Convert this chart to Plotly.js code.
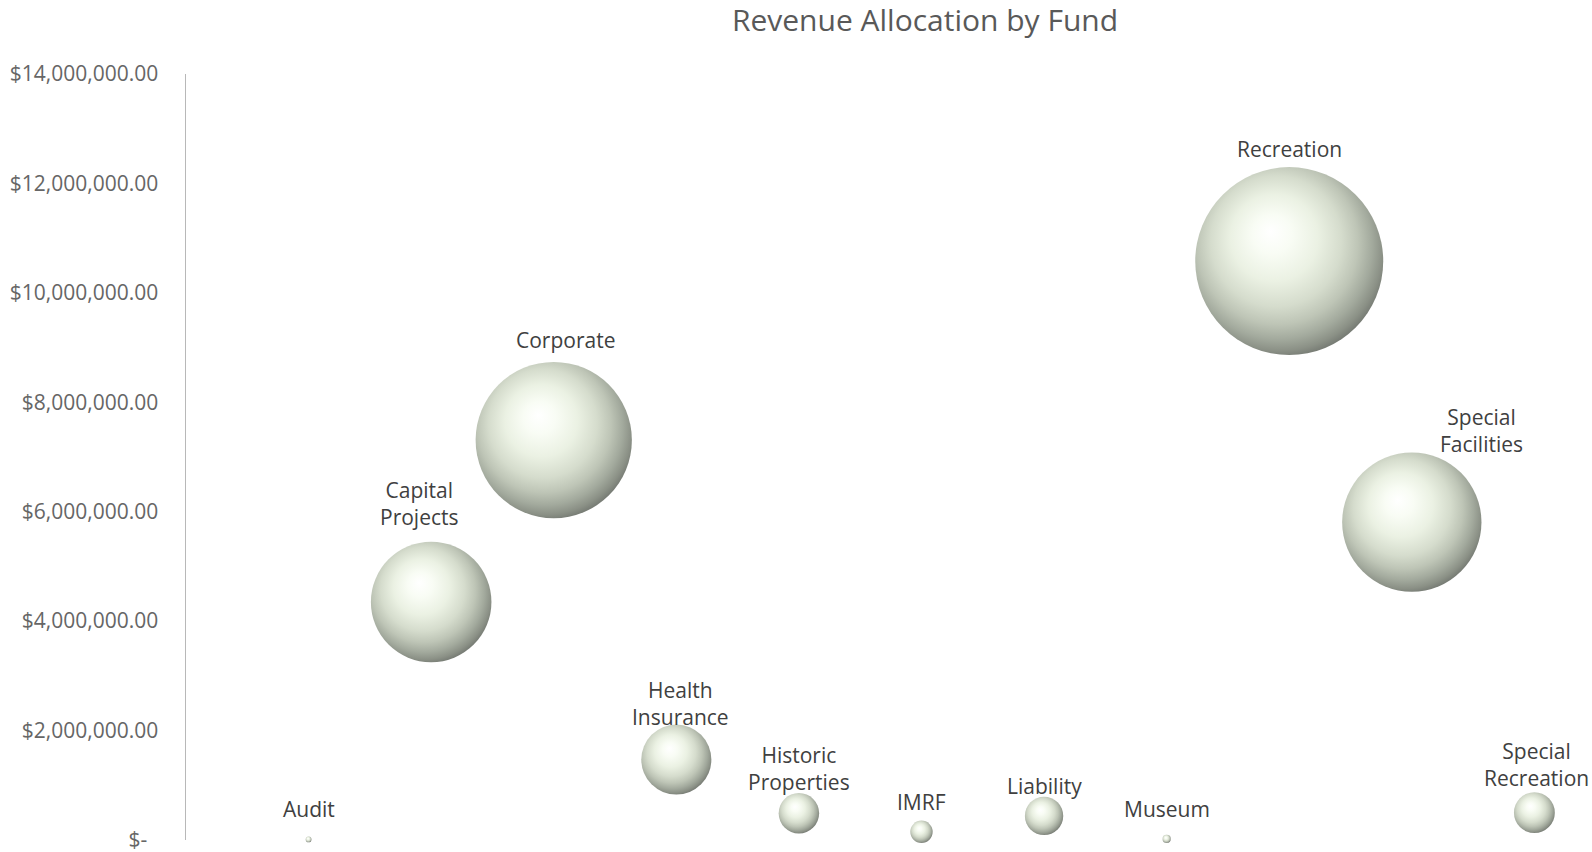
<!DOCTYPE html>
<html>
<head>
<meta charset="utf-8">
<script src="https://cdn.plot.ly/plotly-3.0.1.min.js"></script>
<style>
html, body { margin: 0; padding: 0; background: #ffffff; }
#chart { width: 1592px; height: 852px; }
</style>
</head>
<body>
<div id="chart"></div>
<script>
// ---- Data ----
const funds = ["Audit", "Capital Projects", "Corporate", "Health Insurance", "Historic Properties",
               "IMRF", "Liability", "Museum", "Recreation", "Special Facilities", "Special Recreation"];
const fundLabels = ["Audit", "Capital<br>Projects", "Corporate", "Health<br>Insurance", "Historic<br>Properties",
                    "IMRF", "Liability", "Museum", "Recreation", "Special<br>Facilities", "Special<br>Recreation"];
const fundIndex = [1, 2, 3, 4, 5, 6, 7, 8, 9, 10, 11];
const revenue = [10000, 4350000, 7310000, 1470000, 490000, 150000, 440000, 20000, 10580000, 5810000, 500000];
const yTickValues = [0, 2000000, 4000000, 6000000, 8000000, 10000000, 12000000, 14000000];
const yTickLabels = ["$-\u00a0\u00a0", "$2,000,000.00", "$4,000,000.00", "$6,000,000.00", "$8,000,000.00",
                     "$10,000,000.00", "$12,000,000.00", "$14,000,000.00"];

// ---- Style ----
const MAX_DIAM = 188;
const maxRev = Math.max(...revenue);
const sizeref = 2 * maxRev / (MAX_DIAM * MAX_DIAM);
const radiusOf = v => 0.5 * MAX_DIAM * Math.sqrt(v / maxRev);
const labelOverride = {
  "Corporate": { dx: 12, dy: 5 },
  "Capital Projects": { dx: -12, dy: 10 },
  "Health Insurance": { dx: 4, dy: -5 },
  "Special Facilities": { dx: 70, dy: -8 },
  "Special Recreation": { dx: 2, dy: 3 }
};
const labelFont = { family: "Open Sans, sans-serif", size: 21, color: "#404040" };

const annotations = funds.map((f, i) => {
  const r = radiusOf(revenue[i]);
  const off = Math.max(31, 1.1 * r + 10);
  const ov = labelOverride[f] || { dx: 0, dy: 0 };
  return {
    x: fundIndex[i], y: revenue[i], xref: "x", yref: "y",
    text: fundLabels[i], showarrow: false,
    xanchor: "center", yanchor: "bottom",
    xshift: ov.dx, yshift: off - 17 + ov.dy,
    font: labelFont
  };
});

const trace = {
  type: "scatter",
  mode: "markers",
  x: fundIndex,
  y: revenue,
  text: funds,
  cliponaxis: false,
  marker: {
    size: revenue,
    sizemode: "area",
    sizeref: sizeref,
    color: "#aab4a0",
    line: { width: 0 }
  },
  hoverinfo: "text+y"
};

const layout = {
  width: 1592, height: 852,
  margin: { l: 186, r: 0, t: 73.5, b: 12 },
  paper_bgcolor: "#ffffff", plot_bgcolor: "#ffffff",
  showlegend: false,
  title: {
    text: "Revenue Allocation by Fund",
    font: { family: "Open Sans, sans-serif", size: 30, color: "#595959" },
    x: 925 / 1592, xref: "container", xanchor: "center",
    y: 1 - 20 / 852, yref: "container", yanchor: "middle"
  },
  xaxis: { visible: false, range: [0, 11.47], showgrid: false, zeroline: false },
  yaxis: {
    range: [0, 14000000],
    tickmode: "array",
    tickvals: yTickValues, ticktext: yTickLabels,
    tickfont: { family: "Open Sans, sans-serif", size: 21, color: "#666666" },
    ticks: "", ticklabelstandoff: 22, ticklabeloverflow: "allow",
    showline: true, linecolor: "#b8b8b8", linewidth: 1.5,
    showgrid: false, zeroline: false
  },
  annotations: annotations
};

function addSphereShading(gd) {
  const ns = "http://www.w3.org/2000/svg";
  const svg = gd.querySelector("svg.main-svg");
  let defs = svg.querySelector("defs");
  if (!defs) { defs = document.createElementNS(ns, "defs"); svg.insertBefore(defs, svg.firstChild); }
  const rg = document.createElementNS(ns, "radialGradient");
  rg.setAttribute("id", "sphereShade");
  rg.setAttribute("cx", "0.45"); rg.setAttribute("cy", "0.43");
  rg.setAttribute("fx", "0.40"); rg.setAttribute("fy", "0.34");
  rg.setAttribute("r", "0.58");
  const stops = [[0, "#ffffff"], [0.18, "#f6fbf0"], [0.4, "#e2ebd7"], [0.6, "#c3cdb7"],
                 [0.74, "#a2ac97"], [0.86, "#7b8573"], [0.95, "#596152"], [1, "#3f463b"]];
  stops.forEach(([o, c]) => {
    const s = document.createElementNS(ns, "stop");
    s.setAttribute("offset", o);
    s.setAttribute("stop-color", c);
    rg.appendChild(s);
  });
  defs.appendChild(rg);
  gd.querySelectorAll(".scatterlayer path.point").forEach(p => {
    p.style.fill = "url(#sphereShade)";
    p.style.fillOpacity = "1";
  });
}

Plotly.newPlot("chart", [trace], layout, { displayModeBar: false, staticPlot: true }).then(addSphereShading);
</script>
</body>
</html>
